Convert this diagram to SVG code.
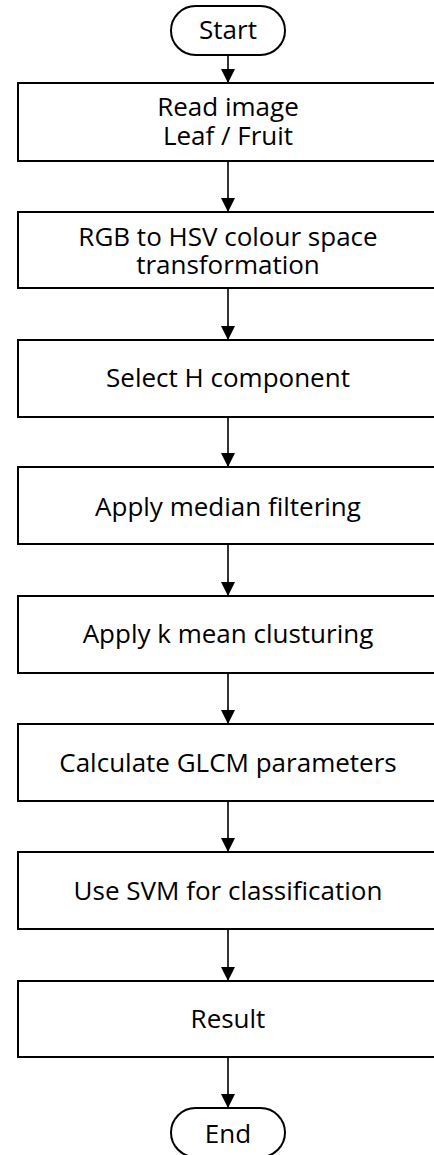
<svg xmlns="http://www.w3.org/2000/svg" width="434" height="1155" viewBox="0 0 434 1155">
<style>
.box{fill:#fff;stroke:#000;stroke-width:2}
.t{font-family:"Open Sans","Noto Sans",sans-serif;font-size:26px;fill:#000;text-anchor:middle}
.c{stroke:#000;stroke-width:1.6;fill:none;marker-end:url(#ah)}
</style>
<defs>
<marker id="ah" markerUnits="userSpaceOnUse" markerWidth="14" markerHeight="14" viewBox="0 0 14 14" refX="14" refY="7" orient="auto">
<path d="M0,0 L14,7 L0,14 Z" fill="#000"/>
</marker>
</defs>
<rect width="434" height="1155" fill="#fff"/>
<g id="connectors">
<line class="c" x1="228" y1="55" x2="228" y2="83"/>
<line class="c" x1="228" y1="161" x2="228" y2="212"/>
<line class="c" x1="228" y1="288" x2="228" y2="340"/>
<line class="c" x1="228" y1="417" x2="228" y2="467"/>
<line class="c" x1="228" y1="544" x2="228" y2="596"/>
<line class="c" x1="228" y1="673" x2="228" y2="724"/>
<line class="c" x1="228" y1="801" x2="228" y2="852"/>
<line class="c" x1="228" y1="929" x2="228" y2="981"/>
<line class="c" x1="228" y1="1057" x2="228" y2="1108"/>
</g>
<g id="start">
<rect class="box" x="171" y="6" width="114" height="49" rx="24.5"/>
<text class="t" x="228" y="39">Start</text>
</g>
<g id="read">
<rect class="box" x="18" y="83" width="420" height="78"/>
<text class="t" x="228" y="116">Read image</text>
<text class="t" x="228" y="145">Leaf / Fruit</text>
</g>
<g id="rgb2hsv">
<rect class="box" x="18" y="212" width="420" height="76"/>
<text class="t" x="228" y="246">RGB to HSV colour space</text>
<text class="t" x="228" y="274">transformation</text>
</g>
<g id="selectH">
<rect class="box" x="18" y="340" width="420" height="77"/>
<text class="t" x="228" y="387">Select H component</text>
</g>
<g id="median">
<rect class="box" x="18" y="467" width="420" height="77"/>
<text class="t" x="228" y="516">Apply median filtering</text>
</g>
<g id="kmeans">
<rect class="box" x="18" y="596" width="420" height="77"/>
<text class="t" x="228" y="643">Apply k mean clusturing</text>
</g>
<g id="glcm">
<rect class="box" x="18" y="724" width="420" height="77"/>
<text class="t" x="228" y="772">Calculate GLCM parameters</text>
</g>
<g id="svm">
<rect class="box" x="18" y="852" width="420" height="77"/>
<text class="t" x="228" y="900">Use SVM for classification</text>
</g>
<g id="result">
<rect class="box" x="18" y="981" width="420" height="76"/>
<text class="t" x="228" y="1028">Result</text>
</g>
<g id="end">
<rect class="box" x="171" y="1108" width="114" height="49" rx="24.5"/>
<text class="t" x="228" y="1143">End</text>
</g>
</svg>
